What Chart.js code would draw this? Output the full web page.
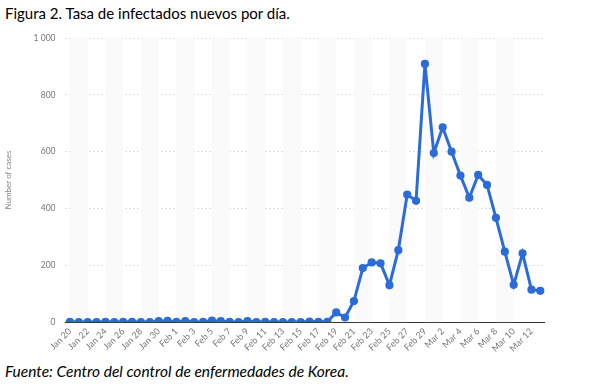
<!DOCTYPE html>
<html>
<head>
<meta charset="utf-8">
<script src="https://cdn.jsdelivr.net/npm/chart.js@4"></script>
<style>
  body { margin: 0; background: #fff; width: 605px; height: 385px; position: relative; overflow: hidden; }
  #title { position: absolute; left: 5px; top: 4px; font: 15px Lato, sans-serif; color: #000; }
  #source { position: absolute; left: 5px; top: 362px; font: italic 15.5px Lato, sans-serif; color: #000; }
  #wrap { position: absolute; left: 0; top: 23px; width: 552px; height: 335px; }
</style>
</head>
<body>
<div id="title">Figura 2. Tasa de infectados nuevos por día.</div>
<div id="wrap"><canvas id="chart"></canvas></div>
<div id="source">Fuente: Centro del control de enfermedades de Korea.</div>
<script>
var days = [
  "Jan 20", "Jan 21", "Jan 22", "Jan 23", "Jan 24", "Jan 25", "Jan 26", "Jan 27", "Jan 28", "Jan 29",
  "Jan 30", "Jan 31", "Feb 1", "Feb 2", "Feb 3", "Feb 4", "Feb 5", "Feb 6", "Feb 7", "Feb 8",
  "Feb 9", "Feb 10", "Feb 11", "Feb 12", "Feb 13", "Feb 14", "Feb 15", "Feb 16", "Feb 17", "Feb 18",
  "Feb 19", "Feb 20", "Feb 21", "Feb 22", "Feb 23", "Feb 24", "Feb 25", "Feb 26", "Feb 27", "Feb 28",
  "Feb 29", "Mar 1", "Mar 2", "Mar 3", "Mar 4", "Mar 5", "Mar 6", "Mar 7", "Mar 8", "Mar 9",
  "Mar 10", "Mar 11", "Mar 12", "Mar 13"
]
var newCases = [
  1, 0, 0, 0, 1, 0, 1, 1, 0, 0,
  3, 4, 1, 3, 0, 1, 5, 3, 1, 0,
  3, 0, 1, 0, 0, 0, 0, 2, 1, 1,
  34, 16, 74, 190, 210, 207, 130, 253, 449, 427,
  909, 595, 686, 600, 516, 438, 518, 483, 367, 248,
  131, 242, 114, 110
]
var yTicks = [0, 200, 400, 600, 800, 1000]

// light vertical bands between every other pair of labels
var bands = {
  id: 'bands',
  beforeDatasetsDraw(chart) {
    let x = chart.scales.x
    let area = chart.chartArea
    let c = chart.ctx
    c.save()
    c.fillStyle = '#fafafa'
    for (let i = 0; i + 2 < days.length; i += 4) {
      let x0 = x.getPixelForValue(i)
      let x1 = x.getPixelForValue(i + 2)
      c.fillRect(x0, area.top, x1 - x0, area.bottom - area.top)
    }
    c.restore()
  }
}

var ctx = document.getElementById("chart").getContext('2d')
var chart = new Chart(ctx, {
  type: 'line',
  data: {
    labels: days,
    datasets: [{
      data: newCases,
      borderColor: '#2b6cd8',
      backgroundColor: '#2b6cd8',
      borderWidth: 3,
      pointRadius: 2.6,
      pointHoverRadius: 3,
      tension: 0
    }]
  },
  options: {
    responsive: true,
    maintainAspectRatio: false,
    animation: false,
    layout: { padding: { top: 3, right: 1, left: 0, bottom: 0 } },
    plugins: { legend: { display: false }, tooltip: { enabled: false } },
    scales: {
      x: {
        offset: true,
        grid: { display: false, drawTicks: false },
        border: { display: true, color: '#333', width: 1 },
        ticks: {
          autoSkip: false,
          maxRotation: 45,
          minRotation: 45,
          padding: 4,
          color: '#777',
          font: { family: 'Lato', size: 9 },
          callback: function(v, i) { return i % 2 === 0 ? days[i] : '' }
        }
      },
      y: {
        min: 0,
        max: 1000,
        afterBuildTicks: function(axis) { axis.ticks = yTicks.map(function(v) { return { value: v } }) },
        grid: {
          color: function(c) { return c.tick.value === 0 ? 'rgba(0,0,0,0)' : '#dedede' },
          drawTicks: false
        },
        border: { display: false, dash: [2, 2] },
        ticks: {
          padding: 10,
          color: '#777',
          font: { family: 'Lato', size: 8.5 },
          callback: function(v) { return v === 1000 ? '1 000' : v }
        },
        title: {
          display: true,
          text: 'Number of cases',
          color: '#888',
          font: { family: 'Lato', size: 8 },
          padding: { top: 4, bottom: 10 }
        }
      }
    }
  },
  plugins: [bands]
})
</script>
</body>
</html>
